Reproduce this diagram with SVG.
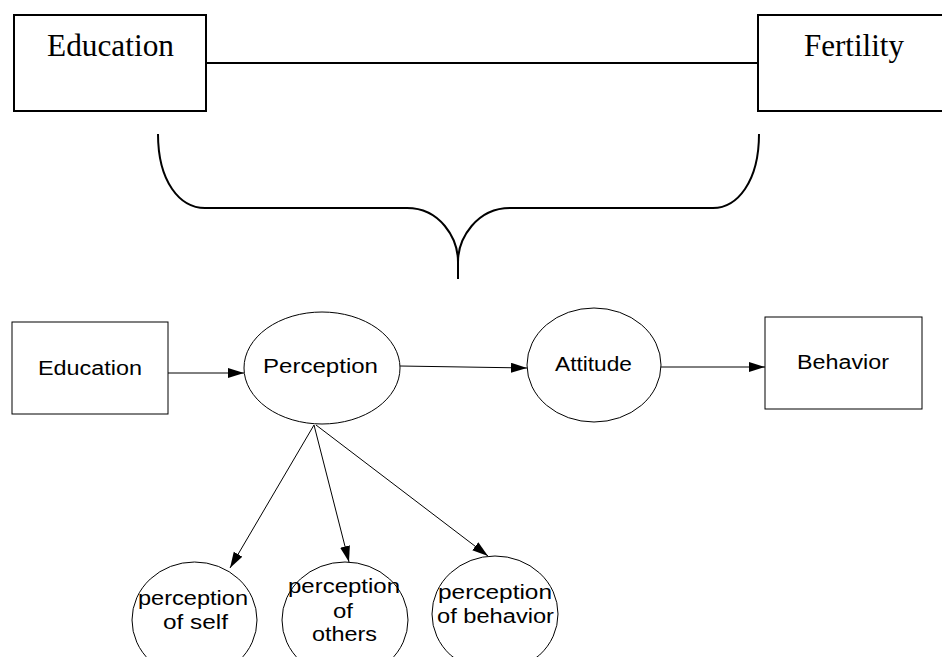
<svg xmlns="http://www.w3.org/2000/svg" width="942" height="657" viewBox="0 0 942 657">
  <style>
    .big { fill: #fff; stroke: #000; stroke-width: 2; }
    .bigtxt { font-family: "Liberation Serif", "Times New Roman", serif; font-size: 31px; fill: #000; }
    .node { fill: #fff; stroke: #000; stroke-width: 1; }
    .txt { font-family: "Liberation Sans", Arial, sans-serif; font-size: 20px; fill: #000; }
    .edge { fill: none; stroke: #000; stroke-width: 1; marker-end: url(#arrow); }
    .brace { fill: none; stroke: #000; stroke-width: 2; }
  </style>
  <defs>
    <marker id="arrow" markerUnits="userSpaceOnUse" markerWidth="17" markerHeight="11" refX="16" refY="5" orient="auto">
      <path d="M0,0 L16,5 L0,10 z" fill="#000"/>
    </marker>
  </defs>

  <rect width="942" height="657" fill="#fff"/>

  <!-- upper summary: Education — Fertility -->
  <g id="top-link">
    <line x1="206" y1="63" x2="758" y2="63" stroke="#000" stroke-width="2"/>
  </g>
  <g id="top-education">
    <rect class="big" x="14" y="15" width="192" height="96"/>
    <text class="bigtxt" x="47" y="56" textLength="127" lengthAdjust="spacingAndGlyphs">Education</text>
  </g>
  <g id="top-fertility">
    <rect class="big" x="758" y="15" width="192" height="96"/>
    <text class="bigtxt" x="804" y="56" textLength="100" lengthAdjust="spacingAndGlyphs">Fertility</text>
  </g>

  <!-- curly brace -->
  <g id="brace">
    <path class="brace" d="M158,134 C158,182 180,208 205,208 L407,208 C440,208 458,238 458,262 L458,279"/>
    <path class="brace" d="M759,134 C759,182 737,208 713,208 L510,208 C477,208 458,238 458,262"/>
  </g>

  <!-- connectors -->
  <g id="connectors">
    <path class="edge" d="M168,373 L244,373"/>
    <path class="edge" d="M400,366 L527,368"/>
    <path class="edge" d="M661,367 L765,367"/>
    <path class="edge" d="M314,425 L230,568"/>
    <path class="edge" d="M314,425 L349,562"/>
    <path class="edge" d="M316,425 L488,556"/>
  </g>

  <!-- nodes -->
  <g id="education">
    <rect class="node" x="12" y="322" width="156" height="92"/>
    <text class="txt" x="38" y="375" textLength="104" lengthAdjust="spacingAndGlyphs">Education</text>
  </g>
  <g id="perception">
    <ellipse class="node" cx="322" cy="368" rx="78" ry="56"/>
    <text class="txt" x="263" y="373" textLength="115" lengthAdjust="spacingAndGlyphs">Perception</text>
  </g>
  <g id="attitude">
    <ellipse class="node" cx="594" cy="365" rx="67" ry="57"/>
    <text class="txt" x="555" y="371" textLength="77" lengthAdjust="spacingAndGlyphs">Attitude</text>
  </g>
  <g id="behavior">
    <rect class="node" x="765" y="317" width="157" height="92"/>
    <text class="txt" x="797" y="369" textLength="92" lengthAdjust="spacingAndGlyphs">Behavior</text>
  </g>
  <g id="perception-self">
    <ellipse class="node" cx="194.5" cy="620" rx="62.5" ry="58"/>
    <text class="txt" x="138" y="605" textLength="110" lengthAdjust="spacingAndGlyphs">perception</text>
    <text class="txt" x="163" y="629" textLength="65" lengthAdjust="spacingAndGlyphs">of self</text>
  </g>
  <g id="perception-others">
    <ellipse class="node" cx="345" cy="620" rx="63" ry="58"/>
    <text class="txt" x="288" y="593" textLength="112" lengthAdjust="spacingAndGlyphs">perception</text>
    <text class="txt" x="333" y="618" textLength="20" lengthAdjust="spacingAndGlyphs">of</text>
    <text class="txt" x="312" y="641" textLength="65" lengthAdjust="spacingAndGlyphs">others</text>
  </g>
  <g id="perception-behavior">
    <ellipse class="node" cx="495" cy="614" rx="63" ry="58"/>
    <text class="txt" x="438" y="599" textLength="114" lengthAdjust="spacingAndGlyphs">perception</text>
    <text class="txt" x="437" y="623" textLength="117" lengthAdjust="spacingAndGlyphs">of behavior</text>
  </g>
</svg>
